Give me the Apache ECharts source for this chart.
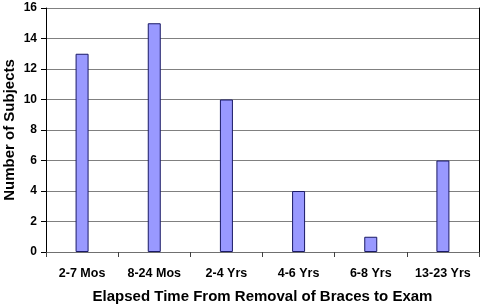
<!DOCTYPE html>
<html><head><meta charset="utf-8">
<script src="https://cdn.jsdelivr.net/npm/echarts@6/dist/echarts.min.js"></script>
<style>html,body{margin:0;padding:0;background:#fff}#c{width:480px;height:304px}</style>
</head><body><div id="c"></div>
<script>
const categories = ["2-7 Mos", "8-24 Mos", "2-4 Yrs", "4-6 Yrs", "6-8 Yrs", "13-23 Yrs"];
const subjects = [13, 15, 10, 4, 1, 6];
const xTitle = "Elapsed Time From Removal of Braces to Exam";
const yTitle = "Number of Subjects";

const chart = echarts.init(document.getElementById('c'), null, {renderer: 'canvas'});
const font = 'Arial, "Liberation Sans", sans-serif';
chart.setOption({
  animation: false,
  grid: {left: 46, right: 1, top: 8, bottom: 52, containLabel: false, outerBoundsMode: 'none'},
  xAxis: {
    type: 'category', data: categories,
    axisLine: {lineStyle: {color: '#707070', width: 1}},
    axisTick: {show: true, length: 5, lineStyle: {color: '#404040'}},
    axisLabel: {color: '#000', fontWeight: 'bold', fontSize: 12.5, fontFamily: font, margin: 15, interval: 0, hideOverlap: false},
    name: xTitle, nameLocation: 'middle', nameGap: 37,
    nameTextStyle: {color: '#000', fontWeight: 'bold', fontSize: 15, fontFamily: font}
  },
  yAxis: [{
    type: 'value', min: 0, max: 16, interval: 2,
    axisLine: {show: true, lineStyle: {color: '#000', width: 1}},
    axisTick: {show: true, length: 5, lineStyle: {color: '#000'}},
    axisLabel: {color: '#000', fontWeight: 'bold', fontSize: 12, fontFamily: font, margin: 9},
    splitLine: {show: true, lineStyle: {color: '#808080', width: 1}},
    name: yTitle, nameLocation: 'middle', nameGap: 29, nameMoveOverlap: false,
    nameTextStyle: {color: '#000', fontWeight: 'bold', fontSize: 15, fontFamily: font}
  }, {
    type: 'value', min: 0, max: 16, interval: 2, position: 'right',
    axisLine: {show: true, lineStyle: {color: '#000', width: 1}},
    axisTick: {show: false}, axisLabel: {show: false}, splitLine: {show: false}
  }],
  series: [{
    type: 'bar', data: subjects, barWidth: 13, yAxisIndex: 0,
    itemStyle: {color: '#9999FF', borderColor: '#1a1a66', borderWidth: 1}
  }]
});
</script></body></html>
